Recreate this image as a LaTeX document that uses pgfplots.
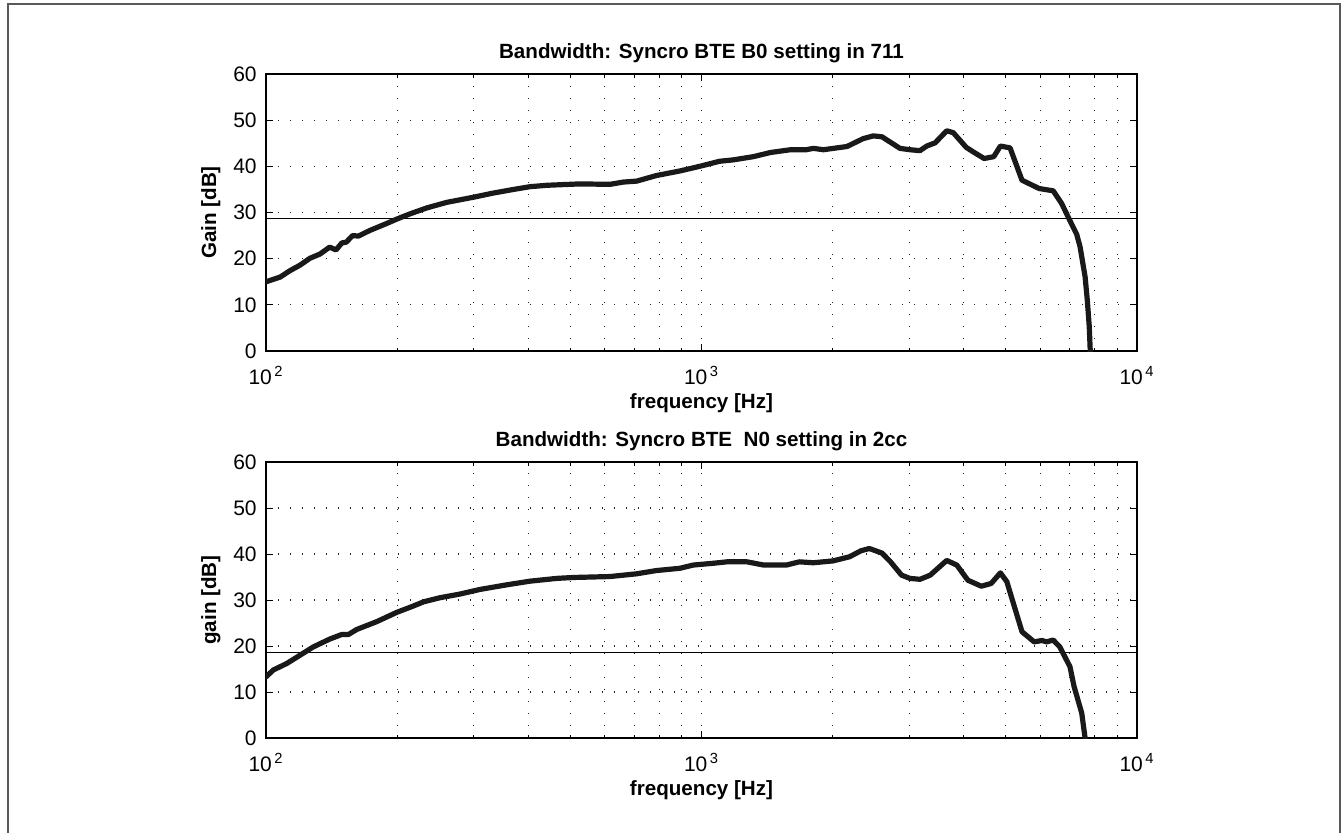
\documentclass[border=0pt]{standalone}
\usepackage{fontspec}
\setmainfont{Liberation Sans}
\usepackage{pgfplots}
\pgfplotsset{compat=1.18}

\pgfplotsset{
  bw/.style={
    width=435.5pt, scale only axis,
    xmin=100, xmax=10000,
    ymin=0, ymax=60, ytick={0,10,...,60},
    xtick={100,1000,10000},
    xticklabels={10\textsuperscript{\,2},10\textsuperscript{\,3},10\textsuperscript{\,4}},
    tick align=inside, xtick pos=both, ytick pos=both,
    major tick length=3.5pt, minor tick length=1.75pt,
    axis line style={line width=0.8pt},
    every tick/.style={black, line width=0.5pt},
    grid=both,
    major grid style={black!85, line width=0.55pt, dash pattern=on 0.55pt off 5.45pt},
    minor grid style={black!85, line width=0.55pt, dash pattern=on 0.55pt off 5.45pt},
    ticklabel style={font=\fontsize{10.5}{12}\selectfont},
    /pgf/number format/assume math mode=true,
    yticklabel style={anchor=east, inner sep=0pt, xshift=-4.5pt},
    xticklabel style={anchor=base, inner sep=0pt, yshift=-16.5pt},
    label style={font=\fontsize{10.3}{12}\selectfont\bfseries},
    xlabel style={at={(axis description cs:0.5,0)}, anchor=base, yshift=-28.5pt},
    ylabel style={at={(axis description cs:-0.0574,0.5)}, anchor=base},
    title style={font=\fontsize{10.3}{12}\selectfont\bfseries, at={(axis description cs:0.5,1)}, anchor=base, yshift=2pt},
    xlabel={frequency [Hz]},
  },
  curve/.style={black!90, line width=2.6pt, line join=round, line cap=round},
  thr/.style={black, line width=0.5pt},
}

\begin{document}
\begin{tikzpicture}
\useasboundingbox (0,0) rectangle (670.5pt,-416pt);
\draw[line width=1pt, black!65] (4pt,-420pt) -- (4pt,-2pt) -- (670pt,-2pt) -- (670pt,-420pt);

\begin{semilogxaxis}[bw, at={(133pt,-175.5pt)}, anchor=south west, height=138.5pt,
  title={Bandwidth: Syncro BTE B0 setting in 711}, ylabel={Gain [dB]}]
\addplot[thr] coordinates {(100,28.6) (10000,28.6)};
\addplot[curve] coordinates {
(100,15.0) (107.7,16.0) (113.5,17.4) (119.7,18.6) (126.2,20.1) (133,21.0)
(140,22.5) (144.8,21.9) (149.3,23.4) (153,23.6) (158,25.0) (163,24.9)
(173,26.1) (189,27.6) (200,28.6) (214,29.7) (234,31.0) (260,32.2)
(299,33.3) (332,34.2) (370,35.0) (404,35.6) (442,35.9) (526,36.2)
(616,36.1) (662,36.6) (710,36.8) (787,38.0) (892,39.0) (990,40.0)
(1100,41.1) (1182,41.4) (1315,42.1) (1440,43.0) (1600,43.6) (1740,43.6)
(1806,43.9) (1905,43.6) (2158,44.3) (2350,46.0) (2480,46.6) (2597,46.4)
(2855,43.9) (3010,43.6) (3174,43.4) (3290,44.4) (3440,45.1) (3656,47.7)
(3785,47.3) (4055,44.1) (4196,43.2) (4456,41.7) (4690,42.1) (4856,44.4)
(5111,44.0) (5444,37.0) (5960,35.2) (6420,34.7) (6710,32.0) (7060,27.7)
(7270,25.3) (7400,22.6) (7600,16.1) (7690,11.0) (7770,5.3) (7810,0) (7820,-3)
};
\end{semilogxaxis}

\begin{semilogxaxis}[bw, at={(133pt,-369pt)}, anchor=south west, height=138pt,
  title={Bandwidth: Syncro BTE\ \ N0 setting in 2cc}, ylabel={gain [dB]}]
\addplot[thr] coordinates {(100,18.6) (10000,18.6)};
\addplot[curve] coordinates {
(100,13.3) (104,14.8) (111.6,16.2) (119.7,18.0) (128.4,19.8) (140,21.5)
(149.2,22.5) (154.6,22.5) (161.6,23.6) (179.6,25.3) (199.5,27.3) (218,28.7)
(230,29.6) (251,30.5) (279,31.3) (310,32.3) (357,33.3) (404,34.1)
(465,34.7) (508,34.9) (616,35.1) (710,35.7) (787,36.4) (892,36.9)
(957,37.6) (1067,38.0) (1144,38.3) (1272,38.3) (1389,37.6) (1566,37.6)
(1678,38.3) (1806,38.1) (2004,38.5) (2187,39.4) (2323,40.7) (2428,41.2)
(2597,40.2) (2717,38.3) (2880,35.4) (3010,34.7) (3174,34.5) (3350,35.4)
(3656,38.6) (3856,37.6) (4090,34.3) (4390,33.0) (4625,33.6) (4856,35.9)
(5024,34.0) (5444,23.1) (5806,20.9) (6051,21.2) (6200,20.9) (6420,21.3)
(6650,19.8) (7016,15.5) (7170,11.2) (7467,5.4) (7600,0) (7620,-3)
};
\end{semilogxaxis}
\end{tikzpicture}
\end{document}
